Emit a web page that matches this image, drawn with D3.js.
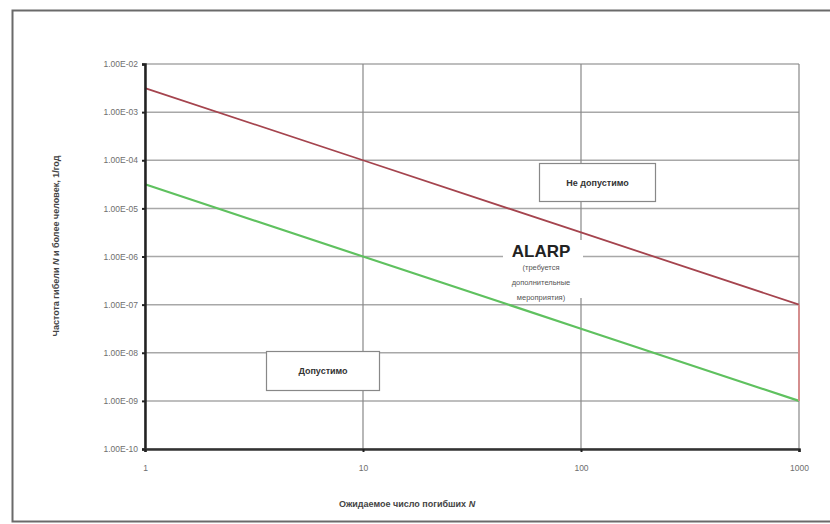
<!DOCTYPE html>
<html>
<head>
<meta charset="utf-8">
<script src="https://cdn.jsdelivr.net/npm/d3@7"></script>
<style>
  body { margin: 0; background: #fff; }
  svg text { font-family: "Liberation Sans", Arial, sans-serif; }
</style>
</head>
<body>
<div id="chart"></div>
<script>
// data
let xTicks = [1, 10, 100, 1000];
let yTicks = [1e-2, 1e-3, 1e-4, 1e-5, 1e-6, 1e-7, 1e-8, 1e-9, 1e-10];
let yTickLabels = ["1.00E-02", "1.00E-03", "1.00E-04", "1.00E-05", "1.00E-06",
                   "1.00E-07", "1.00E-08", "1.00E-09", "1.00E-10"];
let upperN = [1, 10, 100, 1000];
let upperF = [3.16e-3, 1e-4, 3.16e-6, 1e-7];
let lowerN = [1, 10, 100, 1000];
let lowerF = [3.16e-5, 1e-6, 3.16e-8, 1e-9];
let edgeN = [1000, 1000];
let edgeF = [1e-7, 1e-9];

let margin = {top: 64, right: 31, bottom: 75, left: 145};
let width = 830 - margin.left - margin.right;
let height = 524 - margin.top - margin.bottom;

let svg = d3.select("#chart").append("svg")
    .attr("width", 830)
    .attr("height", 524);

// outer frame
svg.append("rect")
    .attr("x", 12.5).attr("y", 10.5)
    .attr("width", 830).attr("height", 511)
    .attr("fill", "none")
    .attr("stroke", "#6a6a6a")
    .attr("stroke-width", 2);

let g = svg.append("g")
    .attr("transform", "translate(" + margin.left + "," + margin.top + ")");

let x = d3.scaleLog().domain([1, 1000]).range([0, width]);
let y = d3.scaleLog().domain([1e-10, 1e-2]).range([height, 0]);

// grid
g.selectAll(".hgrid").data(yTicks).enter().append("line")
    .attr("x1", 0).attr("x2", width)
    .attr("y1", d => y(d)).attr("y2", d => y(d))
    .attr("stroke", "#a8a8a8").attr("stroke-width", 1.5);
g.selectAll(".vgrid").data(xTicks).enter().append("line")
    .attr("x1", d => x(d)).attr("x2", d => x(d))
    .attr("y1", 0).attr("y2", height)
    .attr("stroke", "#888").attr("stroke-width", 1.2);

// ALARP label background (cuts the grid behind the text)
g.append("rect")
    .attr("x", 358).attr("y", 176).attr("width", 80).attr("height", 58)
    .attr("fill", "#fff");

// lines
let line = d3.line()
    .x(d => x(d[0]))
    .y(d => y(d[1]));

g.append("path")
    .datum(d3.zip(lowerN, lowerF))
    .attr("fill", "none")
    .attr("stroke", "#5fc15f")
    .attr("stroke-width", 2.2)
    .attr("d", line);

g.append("path")
    .datum(d3.zip(upperN, upperF))
    .attr("fill", "none")
    .attr("stroke", "#a5444e")
    .attr("stroke-width", 1.8)
    .attr("d", line);

g.append("path")
    .datum(d3.zip(edgeN, edgeF))
    .attr("fill", "none")
    .attr("stroke", "#d88a8a")
    .attr("stroke-width", 1.8)
    .attr("d", line);

// axes
let yAxis = g.append("g")
    .call(d3.axisLeft(y).tickValues(yTicks)
        .tickFormat((d, i) => yTickLabels[i])
        .tickSize(3).tickPadding(4));
yAxis.select(".domain").attr("stroke", "#222").attr("stroke-width", 2.5);
yAxis.selectAll(".tick line").attr("stroke", "#222").attr("stroke-width", 2);
yAxis.selectAll("text").attr("font-size", 8.5).attr("fill", "#6e6e6e");

let xAxis = g.append("g")
    .attr("transform", "translate(0," + height + ")")
    .call(d3.axisBottom(x).tickValues(xTicks)
        .tickFormat(d3.format("d"))
        .tickSize(3).tickPadding(13));
xAxis.select(".domain").attr("stroke", "#333").attr("stroke-width", 2.5);
xAxis.selectAll(".tick line").attr("stroke", "#222").attr("stroke-width", 2);
xAxis.selectAll("text").attr("font-size", 8.5).attr("fill", "#6e6e6e");

// axis titles
let xTitle = svg.append("text")
    .attr("x", 407).attr("y", 507)
    .attr("text-anchor", "middle")
    .attr("font-size", 9).attr("font-weight", "bold")
    .attr("fill", "#444");
xTitle.append("tspan").text("Ожидаемое число погибших ");
xTitle.append("tspan").attr("font-style", "italic").text("N");

let yTitle = svg.append("text")
    .attr("transform", "translate(59,246) rotate(-90)")
    .attr("text-anchor", "middle")
    .attr("font-size", 9).attr("font-weight", "bold")
    .attr("fill", "#444");
yTitle.append("tspan").text("Частота гибели ");
yTitle.append("tspan").attr("font-style", "italic").text("N");
yTitle.append("tspan").text(" и более человек, 1/год");

// region boxes
function labelBox(x0, y0, w, h, txt) {
    svg.append("rect")
        .attr("x", x0).attr("y", y0).attr("width", w).attr("height", h)
        .attr("fill", "#fff").attr("stroke", "#888").attr("stroke-width", 1.2);
    svg.append("text")
        .attr("x", x0 + w / 2).attr("y", y0 + h / 2 + 3)
        .attr("text-anchor", "middle")
        .attr("font-size", 9).attr("font-weight", "bold")
        .attr("fill", "#333")
        .text(txt);
}
labelBox(539.5, 163.5, 116, 38, "Не допустимо");
labelBox(266.5, 351.5, 113, 39, "Допустимо");

// ALARP label
svg.append("text")
    .attr("x", 541).attr("y", 257)
    .attr("text-anchor", "middle")
    .attr("font-size", 17).attr("font-weight", "bold")
    .attr("fill", "#222")
    .text("ALARP");
["(требуется", "дополнительные", "мероприятия)"].forEach(function (t, i) {
    svg.append("text")
        .attr("x", 541).attr("y", 270 + i * 15)
        .attr("text-anchor", "middle")
        .attr("font-size", 7.5)
        .attr("fill", "#555")
        .text(t);
});
</script>
</body>
</html>
